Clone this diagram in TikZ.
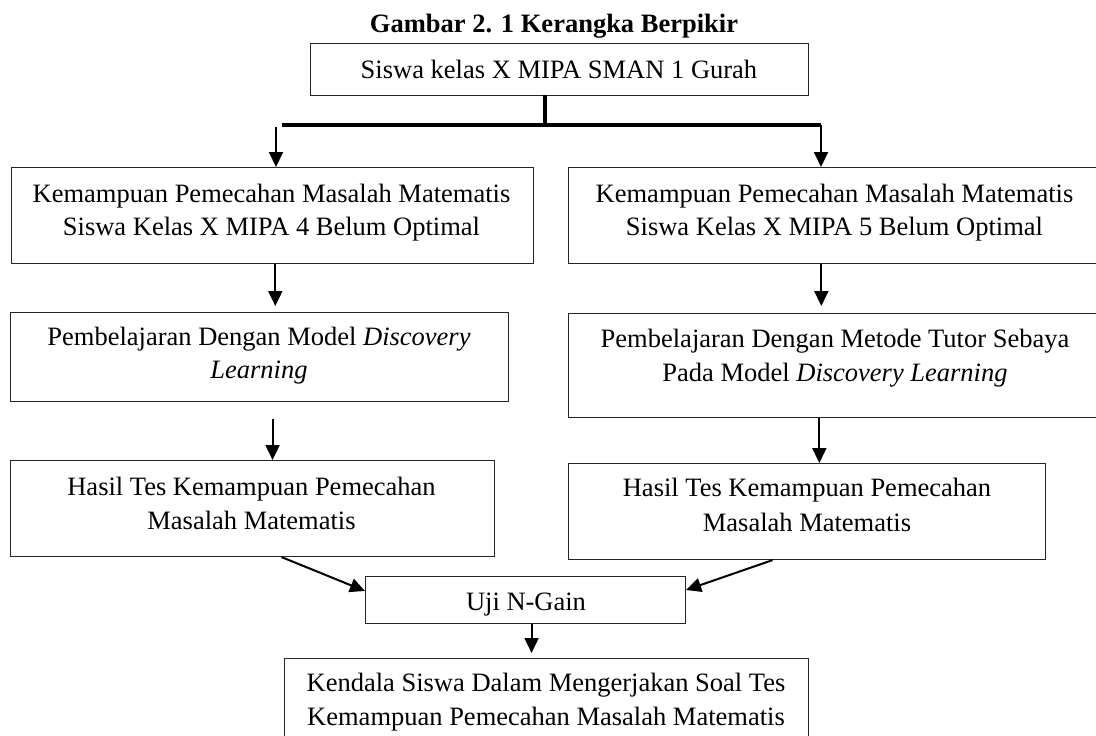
\documentclass[tikz,border=0pt]{standalone}
\usepackage{fontspec}
\setmainfont{Liberation Serif}
\usetikzlibrary{arrows.meta}
\begin{document}
\begin{tikzpicture}[x=1pt,y=-1pt,
  boxst/.style={draw=black!85,line width=1.1pt,inner sep=0pt,anchor=north west},
  txt/.style={anchor=base,inner sep=0pt,font=\fontsize{26.5}{33}\selectfont},
  arr/.style={line width=2pt,-{Triangle[length=15pt,width=14pt]}},
  barst/.style={line width=3.5pt}]
\useasboundingbox (0,0) rectangle (1096,736);
\clip (0,0) rectangle (1096,736);
% boxes
\node[boxst,minimum width=498pt,minimum height=52pt] (top) at (310,43) {};
\node[boxst,minimum width=522.5pt,minimum height=96pt] (L2) at (10.5,167) {};
\node[boxst,minimum width=534.4pt,minimum height=96pt] (R2) at (567.6,167) {};
\node[boxst,minimum width=498pt,minimum height=89pt] (L3) at (10,312) {};
\node[boxst,minimum width=534.4pt,minimum height=104pt] (R3) at (567.6,313) {};
\node[boxst,minimum width=484pt,minimum height=96pt] (L4) at (10,460) {};
\node[boxst,minimum width=477pt,minimum height=96pt] (R4) at (568,463) {};
\node[boxst,minimum width=320pt,minimum height=47pt] (uji) at (365,576) {};
\node[boxst,minimum width=524pt,minimum height=100pt] (ken) at (284,658) {};
% texts
\node[txt,font=\fontsize{26.5}{33}\selectfont\bfseries] (title) at (554,32) {Gambar 2. 1 Kerangka Berpikir};
\node[txt] (ttop) at (559,78) {Siswa kelas X MIPA SMAN 1 Gurah};
\node[txt] (tL2a) at (271.5,202) {Kemampuan Pemecahan Masalah Matematis};
\node[txt] (tL2b) at (271.5,235) {Siswa Kelas X MIPA 4 Belum Optimal};
\node[txt] (tR2a) at (834.5,202) {Kemampuan Pemecahan Masalah Matematis};
\node[txt] (tR2b) at (834.5,235) {Siswa Kelas X MIPA 5 Belum Optimal};
\node[txt] (tL3a) at (259,345) {Pembelajaran Dengan Model \textit{Discovery}};
\node[txt] (tL3b) at (259,378) {\textit{Learning}};
\node[txt] (tR3a) at (835,347) {Pembelajaran Dengan Metode Tutor Sebaya};
\node[txt] (tR3b) at (835,381) {Pada Model \textit{Discovery Learning}};
\node[txt] (tL4a) at (251.5,495) {Hasil Tes Kemampuan Pemecahan};
\node[txt] (tL4b) at (251.5,529) {Masalah Matematis};
\node[txt] (tR4a) at (807,496) {Hasil Tes Kemampuan Pemecahan};
\node[txt] (tR4b) at (807,531) {Masalah Matematis};
\node[txt] (tuji) at (526,610) {Uji N-Gain};
\node[txt] (tkena) at (546,691) {Kendala Siswa Dalam Mengerjakan Soal Tes};
\node[txt] (tkenb) at (546,725) {Kemampuan Pemecahan Masalah Matematis};
% branching connector
\coordinate (drop) at (545,95);
\coordinate (mid) at (545,125);
\coordinate (bl) at (282,125);
\coordinate (br) at (821,125);
\coordinate (al) at (276,127);
\draw[barst] (drop) -- (mid);
\draw[barst] (bl) -- (br);
\draw[arr] (al) -- (al |- L2.north);
\draw[arr] (br) -- (br |- R2.north);
% vertical arrows
\draw[arr,shorten >=6pt] ([xshift=3pt]L2.south) -- ([xshift=3pt]L2.south |- L3.north);
\draw[arr,shorten >=7pt] ([xshift=-14pt]R2.south) -- ([xshift=-14pt]R2.south |- R3.north);
\draw[arr,shorten <=17pt] ([xshift=13pt]L3.south) -- ([xshift=13pt]L3.south |- L4.north);
\draw[arr] ([xshift=-16pt]R3.south) -- ([xshift=-16pt]R3.south |- R4.north);
% diagonal arrows
\draw[arr] ([xshift=29pt]L4.south) -- ([yshift=-15pt]uji.north west);
\draw[arr] ([xshift=-34.5pt]R4.south) -- ([yshift=-14pt]uji.north east);
\draw[arr,shorten >=5pt] ([xshift=6pt]uji.south) -- ([xshift=6pt]uji.south |- ken.north);
\end{tikzpicture}
\end{document}
